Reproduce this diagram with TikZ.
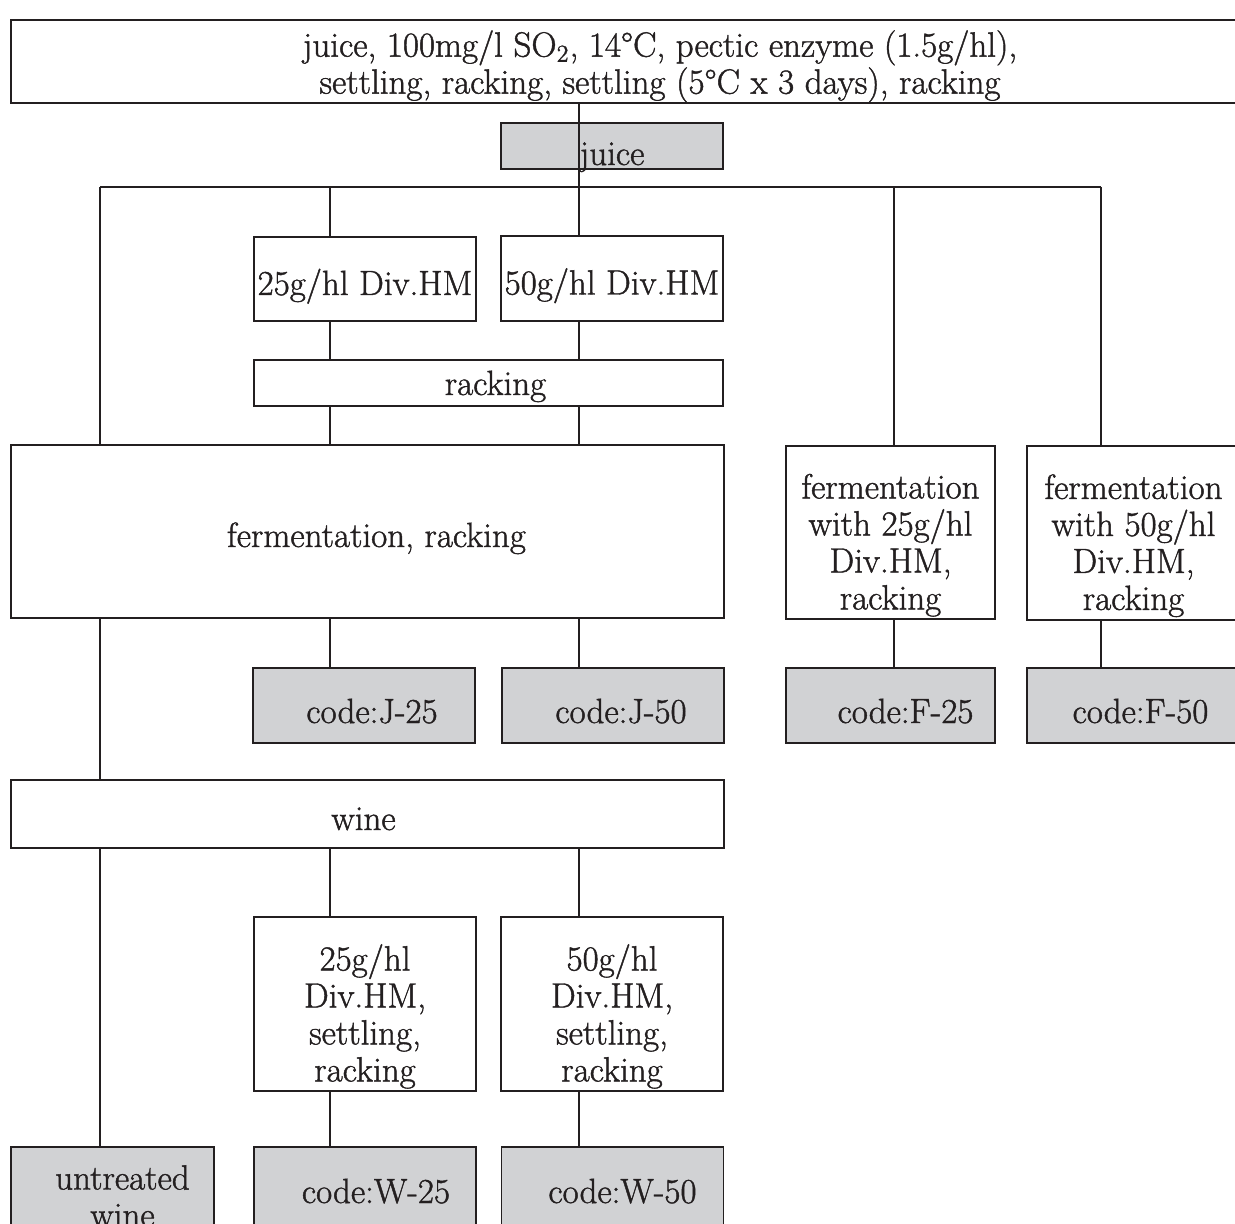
\documentclass[tikz,border=0pt]{standalone}
\usepackage{fontspec}
\setmainfont{Latin Modern Roman}[FakeBold=1.2]
\usepackage{tikz}

\definecolor{boxgray}{RGB}{209,210,212}
\definecolor{ink}{RGB}{35,31,32}

\begin{document}
\begin{tikzpicture}[x=0.5pt, y=-0.5pt,
        box/.style = {draw=ink, line width=0.75pt, fill=white, inner sep=0pt, align=center,
                      font=\fontsize{17.5}{18.5}\selectfont, text=ink},
        graybox/.style = {box, fill=boxgray},
        drop/.style = {text height=#1, text depth=0pt},
        nudge/.style = {execute at begin node={\hspace*{#1}}}]
        \useasboundingbox (0,0) rectangle (1235,1224);
        % boxes
        \node[box, text height=36.5pt, minimum width=649pt, minimum height=41.5pt] (top) at (660,61.5)
            {juice, 100mg/l SO\textsubscript{2}, 14\textdegree C, pectic enzyme (1.5g/hl),\\
             settling, racking, settling (5\textdegree C x 3 days), racking};
        \node[graybox, drop=19pt, minimum width=111pt, minimum height=23pt] (juice) at (612,146) {juice};
        \node[box, drop=16pt, minimum width=111pt, minimum height=42pt]   (d_25)  at (365,279)   {25g/hl Div.HM};
        \node[box, drop=16pt, minimum width=111pt, minimum height=42.5pt] (d_50)  at (612,278.5) {50g/hl Div.HM};
        \node[box, drop=12pt, nudge=7pt, minimum width=234.5pt, minimum height=23pt] (rack) at (488.5,383) {racking};
        \node[box, drop=15.5pt, nudge=9pt, minimum width=356.5pt, minimum height=86.5pt] (ferm) at (367.5,531.5)
            {fermentation, racking};
        \node[box, text height=80.5pt, minimum width=104.5pt, minimum height=86.5pt] (f_25) at (890.5,532.5)
            {fermentation\\with 25g/hl\\Div.HM,\\racking};
        \node[box, text height=80.5pt, minimum width=106.5pt, minimum height=87pt] (f_50) at (1133.5,533)
            {fermentation\\with 50g/hl\\Div.HM,\\racking};
        \node[graybox, drop=17.5pt, nudge=8pt,  minimum width=111pt, minimum height=37.5pt]   (c_j25) at (364,705.5)    {code:J-25};
        \node[graybox, drop=17.5pt, nudge=8pt,  minimum width=111pt, minimum height=37.5pt]   (c_j50) at (613,705.5)    {code:J-50};
        \node[graybox, drop=17.5pt, nudge=15pt, minimum width=104.5pt, minimum height=37.5pt] (c_f25) at (890.5,705.5)  {code:F-25};
        \node[graybox, drop=17.5pt, nudge=7pt,  minimum width=106.5pt, minimum height=37.5pt] (c_f50) at (1133.5,705.5) {code:F-50};
        \node[box, drop=16pt, nudge=-4pt, minimum width=356.5pt, minimum height=34pt] (wine) at (367.5,814) {wine};
        \node[box, text height=81pt, minimum width=111pt, minimum height=87pt] (w_25) at (365,1004)
            {25g/hl\\Div.HM,\\settling,\\racking};
        \node[box, text height=81pt, minimum width=111pt, minimum height=87pt] (w_50) at (612,1004)
            {50g/hl\\Div.HM,\\settling,\\racking};
        \node[graybox, minimum width=101.5pt, minimum height=49pt] (c_u) at (112.5,1196)
            {\hspace*{10pt}untreated\\\hspace*{10pt}wine};
        \node[graybox, drop=7pt, nudge=11pt, minimum width=111pt, minimum height=49pt] (c_w25) at (365,1196)   {code:W-25};
        \node[graybox, drop=7pt, nudge=10pt, minimum width=111pt, minimum height=49pt] (c_w50) at (612.5,1196) {code:W-50};
        % columns of the bus
        \coordinate (col_a) at (100,187);
        \coordinate (col_b) at (330,187);
        \coordinate (col_c) at (579,187);
        \coordinate (col_d) at (894,187);
        \coordinate (col_e) at (1101,187);
        \begin{scope}[draw=ink, line width=0.75pt]
        \draw (top.south -| col_c) -- (col_c);
        \draw (col_a) -- (col_e);
        \draw (col_a) -- (ferm.north -| col_a);
        \draw (col_b) -- (d_25.north -| col_b);
        \draw (col_c) -- (d_50.north -| col_c);
        \draw (col_d) -- (f_25.north -| col_d);
        \draw (col_e) -- (f_50.north -| col_e);
        \draw (d_25.south -| col_b) -- (rack.north -| col_b);
        \draw (d_50.south -| col_c) -- (rack.north -| col_c);
        \draw (rack.south -| col_b) -- (ferm.north -| col_b);
        \draw (rack.south -| col_c) -- (ferm.north -| col_c);
        \draw (ferm.south -| col_b) -- (c_j25.north -| col_b);
        \draw (ferm.south -| col_c) -- (c_j50.north -| col_c);
        \draw (ferm.south -| col_a) -- (wine.north -| col_a);
        \draw (f_25.south -| col_d) -- (c_f25.north -| col_d);
        \draw (f_50.south -| col_e) -- (c_f50.north -| col_e);
        \draw (wine.south -| col_a) -- (c_u.north -| col_a);
        \draw (wine.south -| col_b) -- (w_25.north -| col_b);
        \draw (wine.south -| col_c) -- (w_50.north -| col_c);
        \draw (w_25.south -| col_b) -- (c_w25.north -| col_b);
        \draw (w_50.south -| col_c) -- (c_w50.north -| col_c);
        \end{scope}
\end{tikzpicture}
\end{document}
